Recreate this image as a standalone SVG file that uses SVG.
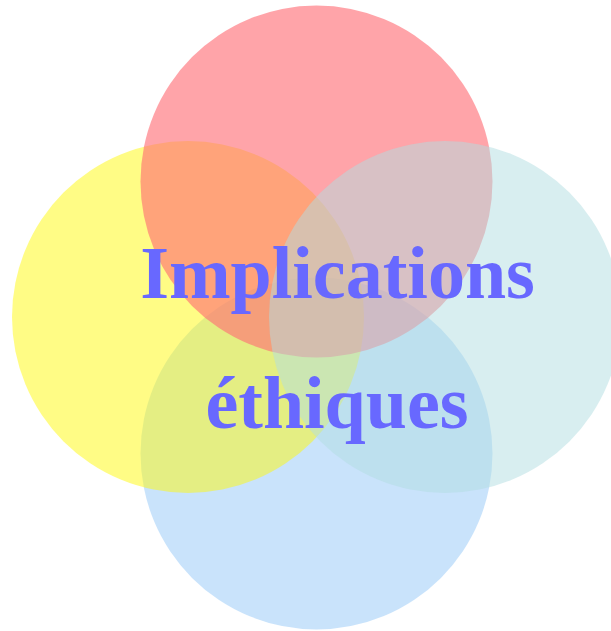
<svg xmlns="http://www.w3.org/2000/svg" width="611" height="631" viewBox="0 0 611 631">
<style>
.c{opacity:0.5}
.t{font-family:"Liberation Serif","Times New Roman",serif;font-weight:bold;font-size:74px;fill:#6868ff;text-anchor:middle}
</style>
<rect width="611" height="631" fill="#ffffff"/>
<g id="blue"><circle class="c" cx="316.5" cy="453.5" r="176" fill="#93c7f7"/></g>
<g id="yellow"><circle class="c" cx="188" cy="317" r="176" fill="#fff90b"/></g>
<g id="red"><circle cx="316.5" cy="181.5" r="176" fill="#ff6c74" opacity="0.62"/></g>
<g id="teal"><circle class="c" cx="445" cy="317" r="176" fill="#b1dde1"/></g>
<g id="label">
<text class="t" x="337.5" y="298">Implications</text>
<text class="t" x="337" y="428">éthiques</text>
</g>
</svg>
